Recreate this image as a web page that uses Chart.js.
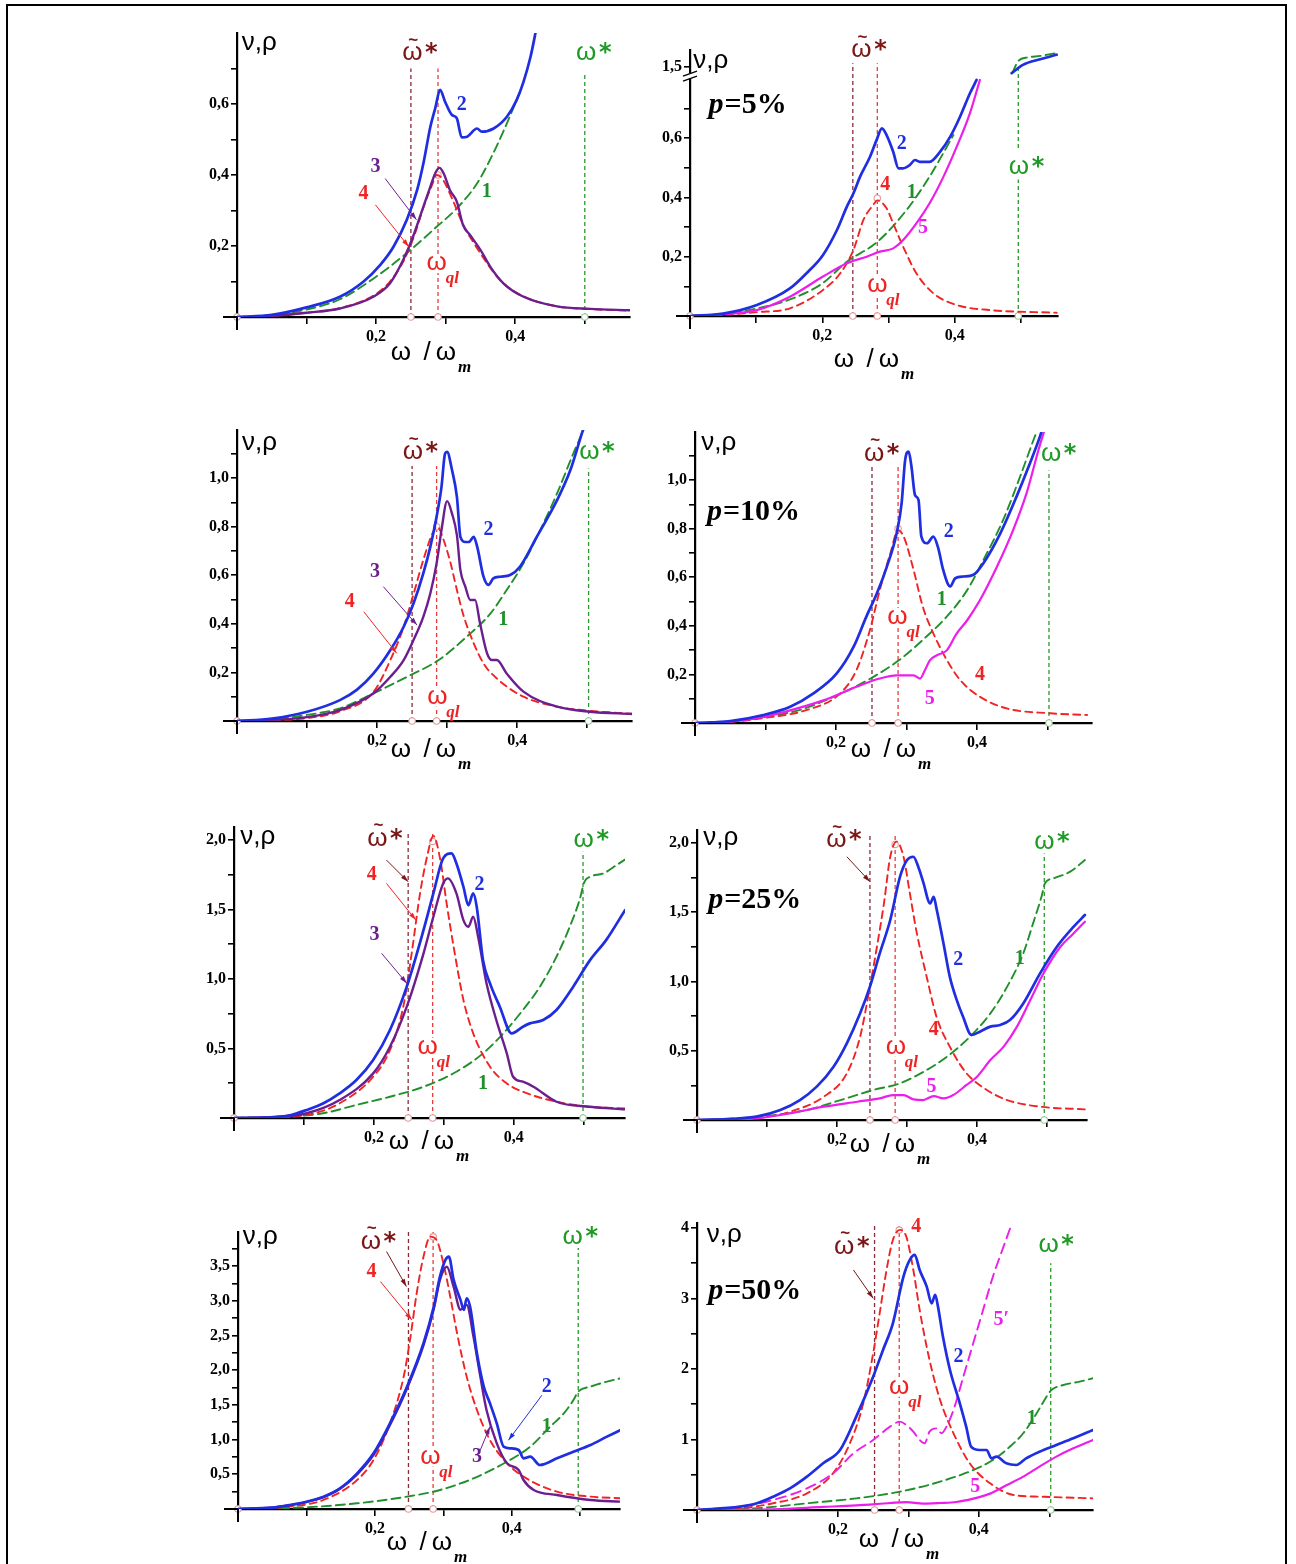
<!DOCTYPE html>
<html>
<head>
<meta charset="utf-8">
<script src="https://cdn.jsdelivr.net/npm/chart.js@4.4.1/dist/chart.umd.min.js"></script>
<style>
html, body { margin: 0; padding: 0; background: #fff; overflow: hidden; width: 1296px; height: 1564px; }
#frame { position: absolute; left: 6px; top: 4px; width: 1281px; height: 1600px; box-sizing: border-box; border: 2px solid #000; border-bottom: none; }
canvas { position: absolute; }
</style>
</head>
<body>
<div id="frame"></div>
<script>
// ---- axis ticks ----
const xTicks = [0, 0.1, 0.2, 0.3, 0.4, 0.5];
const xLabVals = [0.2, 0.4];
const xLabText = ['0,2', '0,4'];

const yTicks1 = [0, 0.1, 0.2, 0.3, 0.4, 0.5, 0.6, 0.7];
const yTicks2 = [0, 0.1, 0.2, 0.3, 0.4, 0.5, 0.6, 0.7, 0.84];
const yTicks3 = [0, 0.1, 0.2, 0.3, 0.4, 0.5, 0.6, 0.7, 0.8, 0.9, 1.0, 1.1];
const yTicks5 = [0, 0.25, 0.5, 0.75, 1.0, 1.25, 1.5, 1.75, 2.0];
const yTicks7 = [0, 0.25, 0.5, 0.75, 1.0, 1.25, 1.5, 1.75, 2.0, 2.25, 2.5, 2.75, 3.0, 3.25, 3.5, 3.75];
const yTicks8 = [0, 0.5, 1, 1.5, 2, 2.5, 3, 3.5, 4];
const yLabVals1 = [0.2, 0.4, 0.6];
const yLabText1 = ['0,2', '0,4', '0,6'];
const yLabVals2 = [0.2, 0.4, 0.6, 0.84];
const yLabText2 = ['0,2', '0,4', '0,6', '1,5'];
const yLabVals3 = [0.2, 0.4, 0.6, 0.8, 1.0];
const yLabText3 = ['0,2', '0,4', '0,6', '0,8', '1,0'];
const yLabVals5 = [0.5, 1.0, 1.5, 2.0];
const yLabText5 = ['0,5', '1,0', '1,5', '2,0'];
const yLabVals7 = [0.5, 1.0, 1.5, 2.0, 2.5, 3.0, 3.5];
const yLabText7 = ['0,5', '1,0', '1,5', '2,0', '2,5', '3,0', '3,5'];
const yLabVals8 = [1, 2, 3, 4];
const yLabText8 = ['1', '2', '3', '4'];

// ---- panel 1 ----
const p1X2 = [0,0.05,0.100,0.148,0.182,0.206,0.225,0.244,0.259,0.268,0.278,0.285,0.292,0.299,0.309,0.316,0.323,0.331,0.345,0.352,0.369,0.388,0.402,0.412,0.422,0.429,0.436];
const p1Y2 = [0,0.006,0.027,0.057,0.10,0.147,0.198,0.273,0.358,0.433,0.536,0.588,0.640,0.607,0.569,0.560,0.506,0.508,0.531,0.522,0.531,0.564,0.611,0.663,0.733,0.799,0.87];
const p1X1 = [0,0.05,0.1,0.148,0.196,0.244,0.287,0.316,0.345,0.373,0.392,0.408];
const p1Y1 = [0,0.005,0.021,0.05,0.108,0.18,0.254,0.306,0.376,0.48,0.564,0.64];
const p1X3 = [0,0.05,0.1,0.148,0.196,0.22,0.239,0.253,0.268,0.278,0.285,0.291,0.297,0.306,0.316,0.325,0.335,0.35,0.364,0.383,0.412,0.46,0.508,0.565];
const p1Y3 = [0,0.003,0.012,0.024,0.057,0.095,0.161,0.226,0.311,0.367,0.405,0.42,0.405,0.358,0.325,0.259,0.231,0.189,0.142,0.095,0.057,0.030,0.023,0.019];
const p1X4 = [0,0.05,0.1,0.148,0.196,0.22,0.24,0.255,0.27,0.28,0.287,0.295,0.31,0.325,0.34,0.36,0.38,0.41,0.46,0.51,0.565];
const p1Y4 = [0,0.003,0.012,0.025,0.06,0.1,0.16,0.23,0.32,0.37,0.40,0.39,0.33,0.26,0.21,0.15,0.10,0.06,0.03,0.022,0.018];

// ---- panel 2 (p=5%) ----
const p2X2 = [0,0.05,0.101,0.151,0.176,0.201,0.222,0.237,0.247,0.257,0.272,0.282,0.290,0.297,0.307,0.315,0.322,0.332,0.340,0.347,0.362,0.378,0.393,0.408,0.423,0.433];
const p2Y2 = [0,0.008,0.037,0.093,0.144,0.206,0.290,0.369,0.414,0.470,0.537,0.594,0.633,0.610,0.554,0.498,0.498,0.509,0.526,0.520,0.520,0.554,0.604,0.672,0.751,0.796];
const p2X2b = [0.486,0.503,0.529,0.554];
const p2Y2b = [1.479,1.507,1.526,1.541];
const p2X1 = [0,0.05,0.1,0.15,0.2,0.237,0.283,0.327,0.362,0.398];
const p2Y1 = [0,0.006,0.025,0.055,0.11,0.183,0.25,0.357,0.47,0.61];
const p2X1b = [0.487,0.496,0.510,0.529,0.552];
const p2Y1b = [1.479,1.52,1.532,1.537,1.546];
const p2X4 = [0,0.05,0.101,0.151,0.201,0.227,0.247,0.262,0.277,0.283,0.297,0.307,0.322,0.342,0.368,0.403,0.453,0.554];
const p2Y4 = [0,0.004,0.013,0.026,0.088,0.144,0.223,0.324,0.375,0.39,0.363,0.312,0.234,0.144,0.076,0.037,0.02,0.011];
const p2X5 = [0,0.05,0.101,0.151,0.201,0.237,0.267,0.287,0.307,0.322,0.342,0.362,0.383,0.403,0.423,0.438];
const p2Y5 = [0,0.006,0.02,0.065,0.133,0.178,0.200,0.217,0.228,0.256,0.312,0.380,0.470,0.571,0.684,0.796];
const p2Break = 0.66; // values above the axis break are shifted down by this

// ---- panel 3 ----
const p3X2 = [0,0.05,0.10,0.147,0.171,0.195,0.219,0.238,0.252,0.266,0.276,0.285,0.292,0.297,0.300,0.307,0.314,0.319,0.326,0.331,0.338,0.343,0.352,0.359,0.366,0.376,0.39,0.404,0.428,0.457,0.476,0.492,0.50];
const p3Y2 = [0,0.01,0.038,0.086,0.128,0.196,0.292,0.388,0.484,0.608,0.717,0.841,0.964,1.10,1.108,1.033,0.923,0.758,0.737,0.737,0.758,0.717,0.594,0.560,0.587,0.594,0.601,0.635,0.758,0.909,1.033,1.18,1.25];
const p3X1 = [0,0.05,0.1,0.147,0.195,0.243,0.288,0.328,0.362,0.385,0.409,0.433,0.457,0.48,0.492,0.50];
const p3Y1 = [0,0.006,0.025,0.052,0.114,0.182,0.251,0.347,0.443,0.539,0.649,0.786,0.937,1.10,1.18,1.24];
const p3X3 = [0,0.05,0.1,0.147,0.195,0.219,0.238,0.252,0.266,0.276,0.285,0.292,0.30,0.307,0.314,0.319,0.326,0.333,0.34,0.347,0.357,0.364,0.371,0.385,0.409,0.457,0.504,0.564];
const p3Y3 = [0,0.004,0.016,0.045,0.114,0.182,0.251,0.333,0.429,0.525,0.649,0.786,0.905,0.854,0.765,0.621,0.553,0.498,0.498,0.402,0.279,0.251,0.251,0.196,0.121,0.059,0.038,0.029];
const p3X4 = [0,0.05,0.1,0.147,0.195,0.219,0.238,0.251,0.266,0.278,0.286,0.295,0.305,0.314,0.324,0.338,0.352,0.371,0.409,0.457,0.504,0.564];
const p3Y4 = [0,0.003,0.012,0.04,0.12,0.251,0.388,0.512,0.663,0.765,0.80,0.745,0.649,0.539,0.429,0.32,0.237,0.175,0.1,0.059,0.042,0.03];

// ---- panel 4 (p=10%) ----
const p4X2 = [0,0.05,0.097,0.135,0.168,0.201,0.225,0.243,0.258,0.272,0.286,0.293,0.298,0.303,0.307,0.312,0.317,0.321,0.329,0.338,0.345,0.352,0.362,0.369,0.381,0.395,0.409,0.433,0.456,0.475,0.489,0.497];
const p4Y2 = [0,0.008,0.033,0.067,0.122,0.204,0.314,0.438,0.534,0.643,0.781,0.904,1.082,1.117,1.055,0.938,0.918,0.767,0.740,0.767,0.719,0.630,0.562,0.596,0.603,0.610,0.658,0.781,0.932,1.069,1.178,1.25];
const p4X1 = [0,0.05,0.1,0.15,0.206,0.253,0.29,0.323,0.357,0.386,0.409,0.437,0.461,0.48,0.49];
const p4Y1 = [0,0.006,0.025,0.055,0.12,0.19,0.26,0.342,0.438,0.547,0.671,0.836,1.014,1.165,1.24];
const p4X4 = [0,0.05,0.097,0.159,0.206,0.229,0.248,0.262,0.277,0.288,0.296,0.31,0.323,0.338,0.357,0.376,0.404,0.442,0.504,0.556];
const p4Y4 = [0,0.005,0.02,0.054,0.122,0.218,0.382,0.547,0.698,0.794,0.767,0.63,0.479,0.369,0.26,0.177,0.108,0.06,0.04,0.033];
const p4X5 = [0,0.05,0.097,0.135,0.182,0.229,0.262,0.286,0.3,0.31,0.319,0.326,0.333,0.343,0.357,0.371,0.386,0.404,0.428,0.451,0.47,0.487,0.495];
const p4Y5 = [0,0.006,0.025,0.052,0.093,0.149,0.183,0.196,0.196,0.196,0.183,0.217,0.258,0.279,0.299,0.368,0.423,0.505,0.642,0.793,0.944,1.123,1.2];

// ---- panel 5 ----
const p5X2 = [0,0.05,0.08,0.104,0.128,0.151,0.175,0.199,0.223,0.247,0.271,0.285,0.299,0.311,0.318,0.328,0.335,0.342,0.347,0.356,0.366,0.38,0.397,0.413,0.423,0.442,0.461,0.485,0.509,0.532,0.559];
const p5Y2 = [0,0.004,0.02,0.058,0.106,0.177,0.273,0.417,0.633,0.945,1.353,1.616,1.868,1.904,1.832,1.664,1.532,1.616,1.52,1.136,0.969,0.801,0.609,0.657,0.681,0.705,0.777,0.945,1.136,1.28,1.496];
const p5X3 = [0,0.05,0.104,0.151,0.199,0.223,0.247,0.271,0.285,0.299,0.306,0.318,0.328,0.335,0.342,0.349,0.361,0.375,0.39,0.399,0.413,0.428,0.461,0.509,0.559];
const p5Y3 = [0,0.005,0.034,0.129,0.321,0.513,0.801,1.185,1.448,1.688,1.724,1.616,1.424,1.376,1.448,1.304,0.969,0.705,0.465,0.297,0.261,0.225,0.117,0.081,0.062];
const p5X4 = [0,0.05,0.104,0.151,0.199,0.223,0.242,0.254,0.266,0.276,0.285,0.295,0.304,0.314,0.328,0.342,0.366,0.39,0.413,0.461,0.509,0.559];
const p5Y4 = [0,0.004,0.022,0.106,0.297,0.489,0.801,1.185,1.616,1.88,2.03,1.856,1.544,1.232,0.849,0.609,0.369,0.249,0.189,0.117,0.081,0.069];
const p5X1 = [0,0.08,0.127,0.175,0.223,0.271,0.318,0.356,0.385,0.413,0.437,0.461,0.48,0.494,0.501,0.509,0.528,0.547,0.559];
const p5Y1 = [0,0.01,0.034,0.094,0.153,0.225,0.333,0.465,0.609,0.777,0.942,1.16,1.376,1.568,1.70,1.736,1.76,1.82,1.86];

// ---- panel 6 (p=25%) ----
const p6X2 = [0,0.05,0.085,0.119,0.147,0.171,0.195,0.214,0.233,0.247,0.261,0.276,0.29,0.3,0.309,0.316,0.323,0.333,0.338,0.342,0.352,0.361,0.371,0.38,0.392,0.404,0.419,0.433,0.447,0.466,0.49,0.514,0.538,0.554];
const p6Y2 = [0,0.008,0.024,0.072,0.144,0.241,0.385,0.554,0.77,0.963,1.203,1.444,1.757,1.877,1.901,1.829,1.72,1.564,1.612,1.528,1.276,1.035,0.866,0.746,0.614,0.638,0.674,0.686,0.722,0.842,1.059,1.251,1.396,1.48];
const p6X1 = [0,0.08,0.157,0.205,0.252,0.29,0.328,0.357,0.39,0.419,0.443,0.466,0.48,0.492,0.497,0.509,0.533,0.554];
const p6Y1 = [0,0.02,0.072,0.144,0.217,0.265,0.361,0.457,0.602,0.77,0.963,1.203,1.42,1.612,1.709,1.745,1.793,1.877];
const p6X4 = [0,0.05,0.085,0.133,0.181,0.214,0.233,0.247,0.257,0.267,0.276,0.285,0.295,0.304,0.314,0.328,0.342,0.361,0.385,0.414,0.443,0.49,0.554];
const p6Y4 = [0,0.004,0.012,0.06,0.168,0.337,0.602,0.963,1.251,1.564,1.901,2.01,1.90,1.637,1.348,1.035,0.746,0.53,0.337,0.217,0.144,0.096,0.077];
const p6X5 = [0,0.05,0.085,0.133,0.181,0.229,0.261,0.28,0.295,0.309,0.323,0.338,0.352,0.366,0.385,0.4,0.419,0.438,0.457,0.476,0.495,0.519,0.538,0.554];
const p6Y5 = [0,0.004,0.012,0.048,0.096,0.132,0.156,0.18,0.18,0.149,0.144,0.173,0.156,0.18,0.253,0.313,0.433,0.53,0.674,0.866,1.059,1.251,1.348,1.432];

// ---- panel 7 ----
const p7X2 = [0,0.05,0.076,0.1,0.125,0.149,0.174,0.198,0.222,0.247,0.271,0.286,0.295,0.303,0.308,0.315,0.325,0.33,0.334,0.339,0.349,0.359,0.368,0.378,0.388,0.398,0.41,0.417,0.427,0.441,0.466,0.49,0.515,0.539,0.559];
const p7Y2 = [0,0.02,0.058,0.105,0.178,0.298,0.514,0.802,1.234,1.763,2.387,2.915,3.347,3.588,3.636,3.30,3.012,2.867,3.036,2.915,2.243,1.763,1.523,1.234,0.898,0.874,0.85,0.73,0.754,0.634,0.73,0.826,0.922,1.042,1.138];
const p7X3 = [0,0.05,0.076,0.1,0.125,0.149,0.174,0.198,0.222,0.247,0.271,0.286,0.295,0.305,0.315,0.325,0.334,0.344,0.354,0.363,0.378,0.393,0.41,0.417,0.432,0.466,0.515,0.559];
const p7Y3 = [0,0.02,0.055,0.1,0.17,0.29,0.5,0.78,1.21,1.74,2.36,2.88,3.30,3.49,3.20,2.87,2.94,2.48,1.907,1.427,0.946,0.658,0.562,0.418,0.274,0.202,0.13,0.106];
const p7X4 = [0,0.05,0.076,0.125,0.174,0.198,0.222,0.242,0.252,0.261,0.271,0.281,0.29,0.3,0.31,0.32,0.334,0.349,0.368,0.393,0.417,0.466,0.515,0.559];
const p7Y4 = [0,0.015,0.034,0.13,0.418,0.706,1.234,1.907,2.483,3.108,3.636,3.924,3.876,3.54,3.06,2.531,1.907,1.427,0.994,0.658,0.466,0.25,0.178,0.154];
const p7X1 = [0,0.1,0.174,0.247,0.295,0.344,0.393,0.427,0.456,0.476,0.49,0.497,0.515,0.539,0.559];
const p7Y1 = [0,0.025,0.082,0.178,0.274,0.442,0.682,0.898,1.186,1.378,1.57,1.69,1.763,1.835,1.883];

// ---- panel 8 (p=50%) ----
const p8X2 = [0,0.061,0.085,0.108,0.132,0.156,0.179,0.203,0.226,0.25,0.264,0.278,0.293,0.302,0.309,0.316,0.326,0.333,0.338,0.342,0.349,0.359,0.373,0.382,0.389,0.401,0.411,0.418,0.425,0.439,0.453,0.467,0.486,0.51,0.534,0.562];
const p8Y2 = [0,0.047,0.095,0.189,0.307,0.473,0.662,0.851,1.324,1.891,2.27,2.648,3.31,3.546,3.617,3.404,3.168,2.931,3.05,2.884,2.459,1.986,1.513,1.182,0.898,0.851,0.851,0.733,0.757,0.662,0.638,0.733,0.827,0.922,1.017,1.135];
const p8X4 = [0,0.061,0.108,0.156,0.193,0.217,0.236,0.25,0.26,0.269,0.278,0.288,0.297,0.307,0.316,0.33,0.345,0.364,0.387,0.416,0.449,0.486,0.562];
const p8Y4 = [0,0.024,0.095,0.236,0.52,0.946,1.513,2.222,2.837,3.404,3.83,3.972,3.877,3.404,2.837,2.128,1.56,1.088,0.662,0.378,0.213,0.189,0.165];
const p8X1 = [0,0.085,0.156,0.226,0.288,0.345,0.392,0.42,0.444,0.463,0.482,0.496,0.503,0.52,0.543,0.562];
const p8Y1 = [0,0.024,0.095,0.165,0.26,0.402,0.567,0.709,0.898,1.088,1.371,1.607,1.702,1.773,1.82,1.868];
const p8X5 = [0,0.108,0.179,0.226,0.274,0.297,0.321,0.345,0.368,0.392,0.416,0.439,0.463,0.486,0.51,0.534,0.562];
const p8Y5 = [0,0.009,0.043,0.066,0.099,0.113,0.09,0.099,0.113,0.161,0.232,0.35,0.473,0.615,0.757,0.875,0.993];
const p8X5d = [0,0.061,0.108,0.156,0.193,0.222,0.25,0.274,0.288,0.297,0.307,0.316,0.323,0.33,0.34,0.347,0.354,0.364,0.378,0.392,0.406,0.42,0.435,0.447];
const p8Y5d = [0,0.047,0.142,0.307,0.52,0.804,0.993,1.182,1.253,1.206,1.111,0.993,0.946,1.111,1.158,1.088,1.182,1.418,1.891,2.364,2.837,3.31,3.735,4.066];

// ---- marker lines: [omega~*, omega_ql, omega*], their tops, and the peak of curve 4 on omega_ql ----
const p1Marks = [0.25, 0.289, 0.50],  p1Tops = [0.70, 0.70, 0.686], p1Peak = 0.40;
const p2Marks = [0.246, 0.283, 0.496], p2Tops = [0.852, 0.852, 0.835], p2Peak = 0.397;
const p3Marks = [0.25, 0.285, 0.502], p3Tops = [1.05, 1.05, 1.04], p3Peak = 0.80;
const p4Marks = [0.251, 0.288, 0.502], p4Tops = [1.055, 1.055, 1.04], p4Peak = 0.80;
const p5Marks = [0.249, 0.284, 0.499], p5Tops = [2.05, 2.05, 1.916], p5Peak = 1.99;
const p6Marks = [0.247, 0.283, 0.496], p6Tops = [2.07, 2.07, 1.925], p6Peak = 1.99;
const p7Marks = [0.249, 0.285, 0.497], p7Tops = [3.996, 3.996, 3.76], p7Peak = 3.92;
const p8Marks = [0.252, 0.287, 0.502], p8Tops = [4.066, 4.066, 3.5], p8Peak = 3.97;

const COL = { c1: '#21902a', c2: '#1f2ee0', c3: '#6c1e8e', c4: '#f02424', c5: '#ec1eec',
              ct: '#7a1616', cs: '#1f9a25', cq: '#ec2424' };
const STY = {
  c2:  { borderColor: COL.c2, borderWidth: 2.7 },
  c3:  { borderColor: COL.c3, borderWidth: 2.4 },
  c5:  { borderColor: COL.c5, borderWidth: 2.2 },
  c5d: { borderColor: COL.c5, borderWidth: 1.9, borderDash: [10, 6] },
  c4:  { borderColor: COL.c4, borderWidth: 1.9, borderDash: [7, 5] },
  c1:  { borderColor: COL.c1, borderWidth: 1.9, borderDash: [9, 5] }
};

const brk = v => v - p2Break;

const panels = [
  { g: { ox: 237, oy: 317, sx: 695, sy: 355, xmax: 0.565, ymax: 0.80 },
    yT: yTicks1, yV: yLabVals1, yL: yLabText1,
    curves: [['c2', p1X2, p1Y2], ['c3', p1X3, p1Y3], ['c4', p1X4, p1Y4], ['c1', p1X1, p1Y1]],
    marks: p1Marks, tops: p1Tops, peak: p1Peak,
    nums: [['2', 0.323, 0.597, 'c2'], ['1', 0.359, 0.353, 'c1'], ['3', 0.199, 0.423, 'c3'], ['4', 0.182, 0.348, 'c4']],
    arrows: [[0.213, 0.39, 0.258, 0.274, 'c3'], [0.199, 0.316, 0.247, 0.198, 'c4']],
    wt: [0.252, 0.744], ws: [0.502, 0.743], wq: [0.287, 0.152], nu: [0.007, 0.772], p: null, title: [164, 36] },
  { g: { ox: 690, oy: 316, sx: 662, sy: 296.5, xmax: 0.556, ymax: 0.897 },
    yT: yTicks2, yV: yLabVals2, yL: yLabText2, brkAt: 0.812,
    curves: [['c2', p2X2, p2Y2], ['c2', p2X2b, p2Y2b, brk], ['c5', p2X5, p2Y5], ['c4', p2X4, p2Y4], ['c1', p2X1, p2Y1], ['c1', p2X1b, p2Y1b, brk]],
    marks: p2Marks, tops: p2Tops, peak: p2Peak,
    nums: [['2', 0.32, 0.582, 'c2'], ['4', 0.295, 0.442, 'c4'], ['1', 0.335, 0.414, 'c1'], ['5', 0.352, 0.296, 'c5']],
    arrows: [],
    wt: [0.259, 0.897], ws: [0.497, 0.504], wsBg: true, wq: [0.283, 0.105], nu: [0.005, 0.86], p: ['p', '=5%', 0.028, 0.712], title: [154, 44] },
  { g: { ox: 237, oy: 721, sx: 700, sy: 243, xmax: 0.564, ymax: 1.198 },
    yT: yTicks3, yV: yLabVals3, yL: yLabText3,
    curves: [['c2', p3X2, p3Y2], ['c3', p3X3, p3Y3], ['c4', p3X4, p3Y4], ['c1', p3X1, p3Y1]],
    marks: p3Marks, tops: p3Tops, peak: p3Peak,
    nums: [['2', 0.359, 0.786, 'c2'], ['3', 0.197, 0.615, 'c3'], ['4', 0.161, 0.491, 'c4'], ['1', 0.38, 0.416, 'c1']],
    arrows: [[0.209, 0.553, 0.257, 0.395, 'c3'], [0.181, 0.45, 0.228, 0.279, 'c4']],
    wt: [0.251, 1.108], ws: [0.503, 1.108], wq: [0.286, 0.1], nu: [0.007, 1.144], p: null, title: [164, 29] },
  { g: { ox: 695, oy: 723, sx: 705, sy: 243, xmax: 0.563, ymax: 1.198 },
    yT: yTicks3, yV: yLabVals3, yL: yLabText3,
    curves: [['c2', p4X2, p4Y2], ['c5', p4X5, p4Y5], ['c4', p4X4, p4Y4], ['c1', p4X1, p4Y1]],
    marks: p4Marks, tops: p4Tops, peak: p4Peak,
    nums: [['2', 0.36, 0.787, 'c2'], ['1', 0.35, 0.506, 'c1'], ['4', 0.404, 0.198, 'c4'], ['5', 0.333, 0.1, 'c5']],
    arrows: [],
    wt: [0.254, 1.11], ws: [0.505, 1.11], wq: [0.287, 0.437], nu: [0.009, 1.152], p: ['p', '=10%', 0.017, 0.868], title: [166, 27] },
  { g: { ox: 234, oy: 1118, sx: 700, sy: 139, xmax: 0.559, ymax: 2.094 },
    yT: yTicks5, yV: yLabVals5, yL: yLabText5,
    curves: [['c2', p5X2, p5Y2], ['c3', p5X3, p5Y3], ['c4', p5X4, p5Y4], ['c1', p5X1, p5Y1]],
    marks: p5Marks, tops: p5Tops, peak: p5Peak,
    nums: [['2', 0.351, 1.676, 'c2'], ['1', 0.356, 0.249, 'c1'], ['3', 0.201, 1.316, 'c3'], ['4', 0.197, 1.748, 'c4']],
    arrows: [[0.211, 1.185, 0.247, 0.969, 'c3'], [0.218, 1.688, 0.26, 1.424, 'c4'], [0.218, 1.856, 0.249, 1.70, 'ct']],
    wt: [0.205, 2.012], ws: [0.50, 2.0], wq: [0.277, 0.513], nu: [0.009, 2.024], p: null, title: [165, 24] },
  { g: { ox: 697, oy: 1120, sx: 700, sy: 138.5, xmax: 0.557, ymax: 2.094 },
    yT: yTicks5, yV: yLabVals5, yL: yLabText5,
    curves: [['c2', p6X2, p6Y2], ['c5', p6X5, p6Y5], ['c4', p6X4, p6Y4], ['c1', p6X1, p6Y1]],
    marks: p6Marks, tops: p6Tops, peak: p6Peak,
    nums: [['2', 0.373, 1.155, 'c2'], ['1', 0.461, 1.167, 'c1'], ['4', 0.338, 0.65, 'c4'], ['5', 0.335, 0.241, 'c5']],
    arrows: [[0.214, 1.901, 0.247, 1.721, 'ct']],
    wt: [0.199, 2.02], ws: [0.496, 2.01], wq: [0.284, 0.529], nu: [0.009, 2.04], p: ['p', '=25%', 0.016, 1.588], title: [163, 25] },
  { g: { ox: 238, oy: 1509, sx: 684, sy: 69.4, xmax: 0.558, ymax: 3.99 },
    yT: yTicks7, yV: yLabVals7, yL: yLabText7,
    curves: [['c2', p7X2, p7Y2], ['c3', p7X3, p7Y3], ['c4', p7X4, p7Y4], ['c1', p7X1, p7Y1]],
    marks: p7Marks, tops: p7Tops, peak: p7Peak,
    nums: [['2', 0.451, 1.763, 'c2'], ['1', 0.451, 1.186, 'c1'], ['3', 0.349, 0.754, 'c3'], ['4', 0.195, 3.42, 'c4']],
    arrows: [[0.444, 1.64, 0.395, 0.99, 'c2'], [0.354, 0.85, 0.368, 1.186, 'c3'], [0.208, 3.276, 0.254, 2.723, 'c4'], [0.217, 3.708, 0.246, 3.204, 'ct']],
    wt: [0.194, 3.85], ws: [0.489, 3.92], wq: [0.281, 0.754], nu: [0.007, 3.92], p: null, title: [159, 34] },
  { g: { ox: 697, oy: 1510, sx: 705, sy: 70.5, xmax: 0.562, ymax: 4.07 },
    yT: yTicks8, yV: yLabVals8, yL: yLabText8,
    curves: [['c2', p8X2, p8Y2], ['c5', p8X5, p8Y5], ['c5d', p8X5d, p8Y5d], ['c4', p8X4, p8Y4], ['c1', p8X1, p8Y1]],
    marks: p8Marks, tops: p8Tops, peak: p8Peak,
    nums: [['4', 0.311, 4.019, 'c4'], ['2', 0.371, 2.175, 'c2'], ['5\u2032', 0.432, 2.695, 'c5'], ['1', 0.475, 1.294, 'c1'], ['5', 0.395, 0.331, 'c5']],
    arrows: [[0.222, 3.404, 0.25, 3.002, 'ct']],
    wt: [0.209, 3.735], ws: [0.499, 3.76], wq: [0.287, 1.749], nu: [0.014, 3.9], p: ['p', '=50%', 0.016, 3.097], title: [172, 30] }
];

// layout around each plot area
const YW = 70, PT = 40, PR = 45, XH = 75;

function txt(ctx, s, x, y, font, color, align) {
  ctx.font = font; ctx.fillStyle = color;
  ctx.textAlign = align || 'center'; ctx.textBaseline = 'middle';
  ctx.fillText(s, x, y);
}

function arrow(ctx, x1, y1, x2, y2, color) {
  ctx.strokeStyle = color; ctx.fillStyle = color; ctx.lineWidth = 1; ctx.setLineDash([]);
  ctx.beginPath(); ctx.moveTo(x1, y1); ctx.lineTo(x2, y2); ctx.stroke();
  const ang = Math.atan2(y2 - y1, x2 - x1), L = 8, w = 0.3;
  ctx.beginPath(); ctx.moveTo(x2, y2);
  ctx.lineTo(x2 - L * Math.cos(ang - w), y2 - L * Math.sin(ang - w));
  ctx.lineTo(x2 - L * Math.cos(ang + w), y2 - L * Math.sin(ang + w));
  ctx.closePath(); ctx.fill();
}

function omegaStar(ctx, x, y, color, tilde, bg) {
  if (bg) { ctx.fillStyle = '#fff'; ctx.fillRect(x - 12, y - 17, 42, 30); }
  txt(ctx, 'ω', x, y, "26px 'Liberation Sans'", color);
  if (tilde) txt(ctx, '~', x + 1, y - 13, "bold 17px 'Liberation Sans'", color);
  txt(ctx, '*', x + 19, y + 1, "bold 24px 'DejaVu Sans'", color);
}

function deco(P) {
  return {
    id: 'deco',
    afterDraw(chart) {
      const ctx = chart.ctx, a = chart.chartArea, sx = chart.scales.x, sy = chart.scales.y;
      const X = v => sx.getPixelForValue(v), Y = v => sy.getPixelForValue(v);
      ctx.save();
      // axes run a little past the origin
      ctx.strokeStyle = '#000'; ctx.lineWidth = 2;
      ctx.beginPath();
      ctx.moveTo(a.left - 14, a.bottom); ctx.lineTo(a.left, a.bottom);
      ctx.moveTo(a.left, a.bottom); ctx.lineTo(a.left, a.bottom + 13);
      ctx.stroke();
      // axis break mark
      if (P.brkAt != null) {
        const by = Y(P.brkAt);
        ctx.fillStyle = '#fff'; ctx.fillRect(a.left - 3, by - 2, 6, 5);
        ctx.lineWidth = 1.3; ctx.beginPath();
        ctx.moveTo(a.left - 7, by + 1); ctx.lineTo(a.left + 7, by - 4);
        ctx.moveTo(a.left - 7, by + 6); ctx.lineTo(a.left + 7, by + 1);
        ctx.stroke();
      }
      P.arrows.forEach(r => arrow(ctx, X(r[0]), Y(r[1]), X(r[2]), Y(r[3]), COL[r[4]]));
      P.nums.forEach(n => txt(ctx, n[0], X(n[1]), Y(n[2]), "bold 20px 'Liberation Serif'", COL[n[3]]));
      omegaStar(ctx, X(P.wt[0]), Y(P.wt[1]), COL.ct, true, false);
      omegaStar(ctx, X(P.ws[0]), Y(P.ws[1]), COL.cs, false, P.wsBg);
      const qx = X(P.wq[0]), qy = Y(P.wq[1]);
      ctx.fillStyle = '#fff'; ctx.fillRect(qx - 10, qy - 9, 20, 19);
      txt(ctx, 'ω', qx, qy, "26px 'Liberation Sans'", COL.cq);
      txt(ctx, 'ql', qx + 9, qy + 16, "italic bold 17px 'Liberation Serif'", COL.cq, 'left');
      txt(ctx, 'ν,ρ', X(P.nu[0]), Y(P.nu[1]), "26px 'Liberation Sans'", '#000', 'left');
      if (P.p) {
        const px = X(P.p[2]), py = Y(P.p[3]);
        txt(ctx, P.p[0], px, py, "italic bold 30px 'Liberation Serif'", '#000', 'left');
        const w = ctx.measureText(P.p[0]).width;
        txt(ctx, P.p[1], px + w + 1, py, "bold 30px 'Liberation Serif'", '#000', 'left');
      }
      const tx = a.left + P.title[0], ty = a.bottom + P.title[1];
      txt(ctx, 'ω', tx, ty, "26px 'Liberation Sans'", '#000');
      txt(ctx, '/', tx + 26, ty, "26px 'Liberation Sans'", '#000');
      txt(ctx, 'ω', tx + 45, ty, "26px 'Liberation Sans'", '#000');
      txt(ctx, 'm', tx + 57, ty + 15, "italic bold 17px 'Liberation Serif'", '#000', 'left');
      ctx.restore();
    }
  };
}

function curve(kind, xs, ys, f) {
  return Object.assign({
    data: xs.map((x, i) => ({ x: x, y: f ? f(ys[i]) : ys[i] })),
    pointRadius: 0, fill: false, cubicInterpolationMode: 'monotone',
    borderCapStyle: 'round', borderJoinStyle: 'round'
  }, STY[kind]);
}

function vline(x, top, color, circ, mid) {
  const data = [{ x: x, y: 0 }], r = [3.2];
  if (mid != null) { data.push({ x: x, y: mid }); r.push(3.2); }
  data.push({ x: x, y: top }); r.push(0);
  return { data: data, borderColor: color, borderWidth: 1.3, borderDash: [4, 3],
           pointRadius: r, pointBackgroundColor: '#fff', pointBorderColor: circ,
           pointBorderWidth: 1.1, clip: false, tension: 0 };
}

function labelFor(vals, texts) {
  return v => {
    const i = vals.findIndex(t => Math.abs(t - v) < 1e-6);
    return i < 0 ? '' : texts[i];
  };
}

panels.forEach(P => {
  const g = P.g;
  const w = Math.round(g.xmax * g.sx), h = Math.round(g.ymax * g.sy);
  const cv = document.createElement('canvas');
  cv.width = YW + w + PR; cv.height = PT + h + XH;
  cv.style.left = (g.ox - YW) + 'px';
  cv.style.top = (g.oy - h - PT) + 'px';
  document.body.appendChild(cv);

  const datasets = P.curves.map(c => curve(c[0], c[1], c[2], c[3]));
  datasets.push(vline(P.marks[0], P.tops[0], '#8b2a3a', '#e0a0a0'));
  datasets.push(vline(P.marks[1], P.tops[1], '#e83c3c', '#e89a9a', P.peak));
  datasets.push(vline(P.marks[2], P.tops[2], '#2a9a2a', '#9acc9a'));
  datasets.push({ data: [{ x: 0, y: 0 }], showLine: false, pointRadius: 3.2, pointBackgroundColor: '#fff',
                  pointBorderColor: '#d8a0a0', pointBorderWidth: 1.1, clip: false });

  const tickFont = { family: 'Liberation Serif', weight: 'bold', size: 16 };
  new Chart(cv, {
    type: 'line',
    data: { datasets: datasets },
    options: {
      responsive: false, animation: false, events: [], devicePixelRatio: 1,
      layout: { padding: { left: 0, top: PT, right: PR, bottom: 0 } },
      plugins: { legend: { display: false }, tooltip: { enabled: false } },
      scales: {
        x: {
          type: 'linear', min: 0, max: g.xmax,
          afterFit: s => { s.height = XH; },
          afterBuildTicks: s => { s.ticks = xTicks.map(v => ({ value: v })); },
          ticks: { callback: labelFor(xLabVals, xLabText), font: tickFont, color: '#000',
                   maxRotation: 0, autoSkip: false, padding: 3 },
          grid: { drawOnChartArea: false, tickLength: 7, color: '#000', lineWidth: 1.6 },
          border: { color: '#000', width: 2.2 }
        },
        y: {
          type: 'linear', min: 0, max: g.ymax,
          afterFit: s => { s.width = YW; },
          afterBuildTicks: s => { s.ticks = P.yT.map(v => ({ value: v })); },
          ticks: { callback: labelFor(P.yV, P.yL), font: tickFont, color: '#000', autoSkip: false, padding: 2 },
          grid: { drawOnChartArea: false, tickLength: 6, color: '#000', lineWidth: 1.6 },
          border: { color: '#000', width: 2.2 }
        }
      }
    },
    plugins: [deco(P)]
  });
});
</script>
</body>
</html>
